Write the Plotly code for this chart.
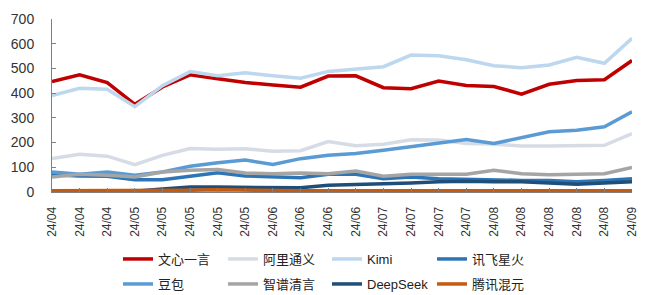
import plotly.graph_objects as go

tick_labels = ["24/04", "24/04", "24/04", "24/05", "24/05", "24/05", "24/05", "24/05",
               "24/06", "24/06", "24/06", "24/06", "24/07", "24/07", "24/07", "24/07",
               "24/08", "24/08", "24/08", "24/08", "24/08", "24/09"]

wenxin = [447, 474, 443, 355, 425, 474, 458, 443, 433, 424, 469, 470, 422, 418, 449, 431, 427, 396, 436, 451, 454, 532]
tongyi = [135, 153, 145, 111, 148, 176, 173, 175, 165, 167, 204, 187, 193, 211, 210, 196, 194, 186, 186, 189, 189, 236]
kimi = [390, 420, 416, 345, 430, 487, 470, 482, 470, 460, 488, 499, 507, 554, 551, 535, 511, 503, 514, 545, 521, 622]
xunfei = [70, 65, 64, 50, 50, 65, 78, 65, 61, 58, 72, 72, 54, 61, 54, 51, 50, 47, 47, 41, 47, 54]
doubao = [81, 72, 81, 68, 81, 104, 118, 129, 111, 135, 149, 156, 169, 183, 199, 212, 196, 219, 244, 250, 264, 325]
zhipu = [61, 72, 68, 61, 81, 88, 91, 77, 74, 77, 74, 85, 64, 72, 72, 72, 88, 74, 70, 72, 74, 99]
deepseek = [2, 2, 2, 3, 12, 20, 20, 18, 17, 17, 27, 30, 30, 36, 41, 43, 41, 41, 36, 31, 36, 41]
hunyuan = [5, 5, 7, 5, 5, 7, 9, 7, 6, 5, 5, 5, 5, 5, 5, 5, 5, 6, 5, 5, 5, 5]

names = ["文心一言", "阿里通义", "Kimi", "讯飞星火", "豆包", "智谱清言", "DeepSeek", "腾讯混元"]
values = [wenxin, tongyi, kimi, xunfei, doubao, zhipu, deepseek, hunyuan]
colors = ["#C00000", "#D6DCE5", "#BDD7EE", "#2E75B6", "#5B9BD5", "#A5A5A5", "#1F4E79", "#C55A11"]

# legend grid: 4 columns x 2 rows (pixel positions in the 646x295 page)
legend_cols = [118, 223, 327, 432]
legend_rows = [259, 284]

x = list(range(len(tick_labels)))

fig = go.Figure()
font_family = "Liberation Sans, Noto Sans CJK SC, Arial, sans-serif"
legend_layouts = {}
for i, (name, vals, color) in enumerate(zip(names, values, colors)):
    lg = "legend" if i == 0 else f"legend{i + 1}"
    fig.add_trace(go.Scatter(x=x, y=vals, mode="lines", name=name,
                             line=dict(color=color, width=3.5),
                             legend=lg, showlegend=True))
    legend_layouts[lg] = dict(
        orientation="h", xref="container", yref="container",
        xanchor="left", yanchor="middle", visible=True,
        x=legend_cols[i % 4] / 646, y=1 - legend_rows[i // 4] / 295,
        font=dict(family=font_family, size=13, color="#222222"),
        bgcolor="rgba(0,0,0,0)", borderwidth=0)

fig.update_layout(
    width=646, height=295,
    showlegend=True,
    margin=dict(l=52, r=14, t=19, b=103, autoexpand=False),
    paper_bgcolor="white", plot_bgcolor="white",
    font=dict(family=font_family, color="#333333"),
    xaxis=dict(range=[0, 21], tickmode="array", tickvals=x, ticktext=tick_labels,
               tickangle=-90, tickfont=dict(size=12, color="#333333"),
               showgrid=False, zeroline=False, showline=True, linecolor="#808080",
               linewidth=1, ticks="inside", ticklen=4, tickcolor="#808080",
               ticklabelstandoff=9, automargin=False),
    yaxis=dict(range=[0, 700], dtick=100, tickfont=dict(size=14, color="#333333"),
               showgrid=False, zeroline=False, showline=True, linecolor="#808080",
               linewidth=1, ticks="inside", ticklen=4, tickcolor="#808080",
               ticklabelstandoff=14, automargin=False),
    **legend_layouts,
)

fig.write_html("out.html", config={"displayModeBar": False},
               post_script="document.body.style.margin='0';document.body.style.padding='0';")
